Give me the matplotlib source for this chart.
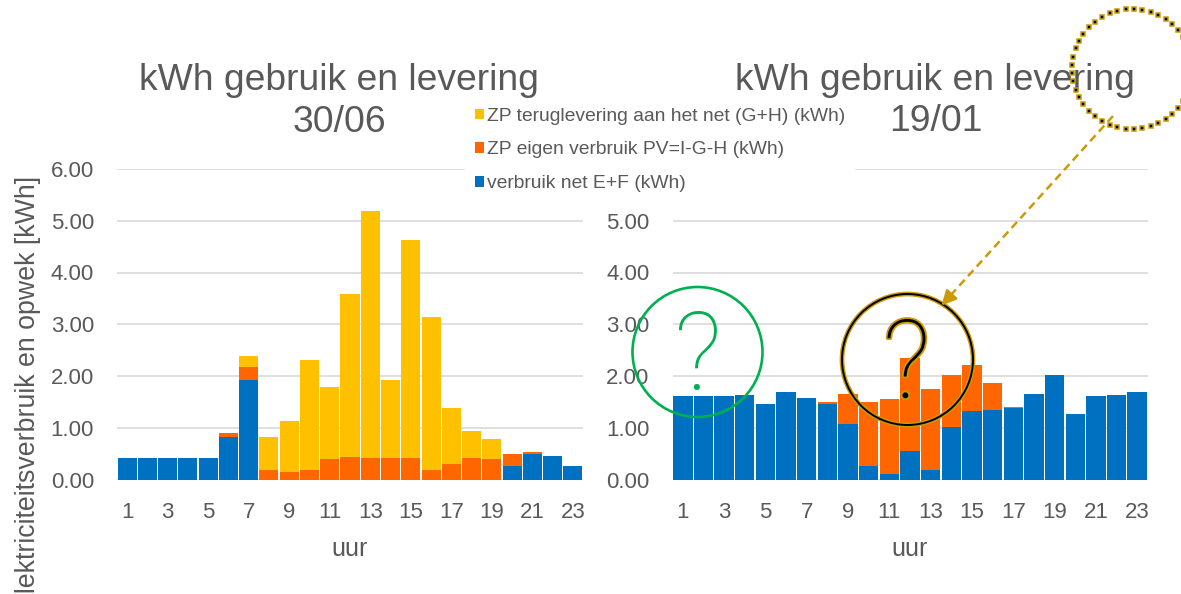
import matplotlib
matplotlib.use('Agg')
import matplotlib.pyplot as plt
import numpy as np
from matplotlib.patches import Circle
import matplotlib.patheffects as pe

plt.rcParams['font.family'] = ['Liberation Sans', 'DejaVu Sans']

hours = list(range(1, 24))

# 30/06
zomer_net = [0.42, 0.42, 0.42, 0.42, 0.42, 0.82, 1.92, 0, 0, 0, 0, 0, 0, 0, 0, 0,
             0, 0, 0, 0.26, 0.49, 0.45, 0.26]
zomer_eigen = [0, 0, 0, 0, 0, 0.07, 0.26, 0.18, 0.14, 0.18, 0.39, 0.43, 0.41, 0.41,
               0.41, 0.18, 0.30, 0.41, 0.39, 0.23, 0.04, 0, 0]
zomer_terug = [0, 0, 0, 0, 0, 0, 0.20, 0.64, 1.00, 2.12, 1.39, 3.16, 4.77, 1.52,
               4.22, 2.96, 1.08, 0.52, 0.39, 0, 0, 0, 0]

# 19/01
winter_net = [1.61, 1.61, 1.61, 1.63, 1.45, 1.70, 1.57, 1.45, 1.07, 0.26, 0.11, 0.55,
              0.18, 1.01, 1.32, 1.34, 1.38, 1.66, 2.01, 1.26, 1.61, 1.63, 1.70]
winter_eigen = [0, 0, 0, 0, 0, 0, 0, 0.04, 0.59, 1.23, 1.44, 1.79, 1.56, 1.00, 0.90,
                0.52, 0.03, 0, 0, 0, 0, 0, 0]
winter_terug = [0] * 23

labels = ['ZP teruglevering aan het net (G+H) (kWh)',
          'ZP eigen verbruik PV=I-G-H (kWh)',
          'verbruik net E+F (kWh)']

BLUE = '#0070C0'
ORANGE = '#FF6600'
YELLOW = '#FFC000'
GREY = '#595959'
GOLD = '#CC9A06'

W, H = 1181, 594
fig = plt.figure(figsize=(W / 100, H / 100), dpi=100)


def panel(rect, net, eigen, terug, top_label=True):
    ax = fig.add_axes(rect)
    b1 = ax.bar(hours, net, width=0.94, color=BLUE)
    b2 = ax.bar(hours, eigen, bottom=net, width=0.94, color=ORANGE)
    b3 = ax.bar(hours, terug, bottom=np.add(net, eigen), width=0.94, color=YELLOW)
    ax.set_xlim(0.5, 23.5)
    ax.set_ylim(0, 6)
    ax.set_yticks(np.arange(0, 7))
    ylabs = ['%.2f' % v for v in range(7)]
    if not top_label:
        ylabs[-1] = ''  # hidden behind the legend
    ax.set_yticklabels(ylabs)
    ax.set_xticks(hours[::2])
    ax.grid(axis='y', color='#D9D9D9', lw=1.2)
    ax.set_axisbelow(True)
    for s in ax.spines.values():
        s.set_visible(False)
    ax.tick_params(axis='y', length=0, pad=16.5, labelsize=16, labelcolor=GREY)
    ax.tick_params(axis='x', length=0, pad=16, labelsize=16, labelcolor=GREY)
    return ax, (b3, b2, b1)


bottom = 1 - 479.5 / H
height = 310.5 / H
ax1, handles = panel([117 / W, bottom, 466 / W, height], zomer_net, zomer_eigen, zomer_terug)
ax2, _ = panel([672.5 / W, bottom, 475 / W, height], winter_net, winter_eigen, winter_terug,
               top_label=False)

# titles and axis labels
for x, y, s in [(338.5, 90, 'kWh gebruik en levering'), (339, 132, '30/06'),
                (935, 90, 'kWh gebruik en levering'), (936, 131, '19/01')]:
    fig.text(x / W, 1 - y / H, s, ha='center', va='baseline', fontsize=26.8, color=GREY)
for x in [350, 909.5]:
    fig.text(x / W, 1 - 556 / H, 'uur', ha='center', va='baseline', fontsize=18, color=GREY)
fig.text(28 / W, 1 - 176 / H, 'elektriciteitsverbruik en opwek [kWh]', rotation=90,
         ha='center', va='top', fontsize=19.3, color=GREY)

fig.legend(handles=list(handles), labels=labels, loc='upper left',
           bbox_to_anchor=(465 / W, 1 - 98 / H), bbox_transform=fig.transFigure,
           frameon=True, facecolor='white', edgecolor='none', framealpha=1,
           fancybox=False, fontsize=13.9, handlelength=0.46, handleheight=0.46,
           handletextpad=0.2, labelspacing=0.87, borderpad=0.5, borderaxespad=0,
           labelcolor=GREY)

# drawn annotations on top, in pixel coordinates
ov = fig.add_axes([0, 0, 1, 1], zorder=10)
ov.set_xlim(0, W)
ov.set_ylim(H, 0)
ov.axis('off')

ov.add_patch(Circle((697.5, 352), 65, fill=False, ec='#00B050', lw=1.9))
ov.text(698, 390, '?', ha='center', va='baseline', fontsize=79, color='#00B050',
        family=['Roboto', 'DejaVu Sans'], fontweight='light')

outline = [pe.Stroke(linewidth=3.4, foreground=GOLD), pe.Normal()]
c = Circle((907.5, 359.5), 65.5, fill=False, ec='black', lw=1.4)
c.set_path_effects(outline)
ov.add_patch(c)
ov.text(906.5, 398, '?', ha='center', va='baseline', fontsize=79, color='black',
        family=['Roboto', 'DejaVu Sans'], fontweight='light',
        path_effects=[pe.withStroke(linewidth=2.6, foreground=GOLD)])

t = np.linspace(0, 2 * np.pi, 45, endpoint=False)
ov.plot(1132 + 60 * np.cos(t), 69 + 60 * np.sin(t), ls='none', marker='s', ms=2.4,
        mfc='black', mec=GOLD, mew=1.1)

ov.plot([1113, 950], [116, 296], color=GOLD, lw=1.8, dashes=(3.2, 2))
ov.annotate('', xy=(941.5, 305.5), xytext=(952, 294),
            arrowprops=dict(arrowstyle='-|>', color=GOLD, lw=1.8, mutation_scale=22,
                            shrinkA=0, shrinkB=0))

fig.savefig('out.png', dpi=100)
